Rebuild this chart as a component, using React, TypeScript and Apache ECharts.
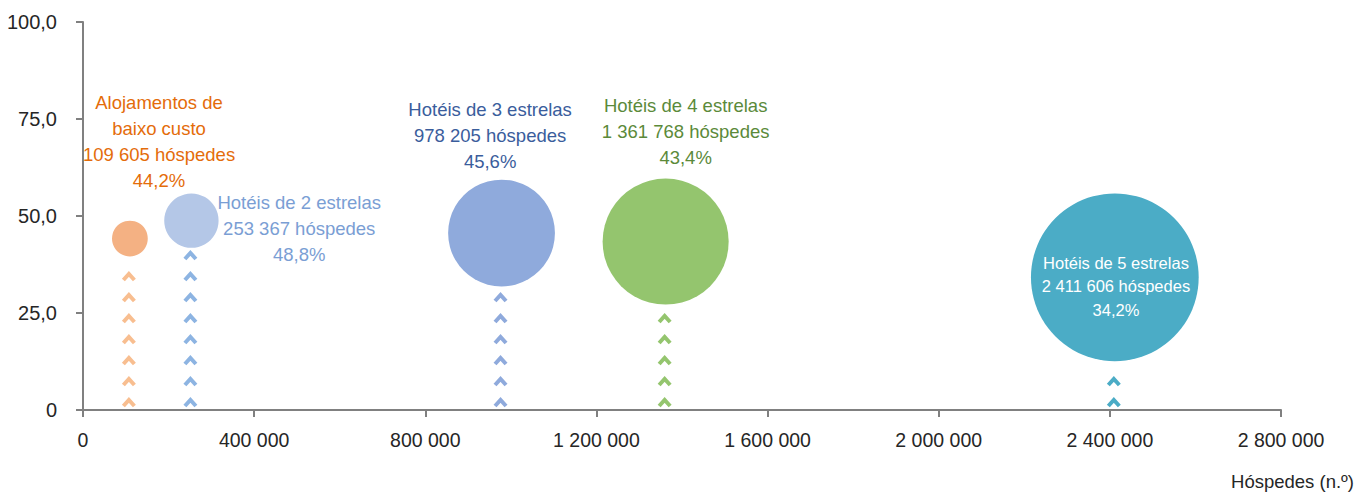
import React, { useEffect, useRef } from "react";
import * as echarts from "echarts";

const categories = [
  "Alojamentos de\nbaixo custo",
  "Hotéis de 2 estrelas",
  "Hotéis de 3 estrelas",
  "Hotéis de 4 estrelas",
  "Hotéis de 5 estrelas",
];
const guests = [109605, 253367, 978205, 1361768, 2411606];
const shares = [44.2, 48.8, 45.6, 43.4, 34.2];

const bubbleColors = ["#F4B183", "#B4C7E7", "#8FAADC", "#94C56E", "#4BACC6"];
const chevronColors = ["#F8BE90", "#8DB4E2", "#8FAADC", "#94C56E", "#4BACC6"];
const labelColors = ["#E46C0A", "#7A9ED4", "#3A5D9C", "#5B8A3A", "#FFFFFF"];
const labelPositions: [number, number][] = [
  [47, -79],
  [135, 35],
  [42, -44],
  [83, -47],
  [85, 93],
];

const SIZE_K = 0.108;
const FONT = "'Liberation Sans', Arial, sans-serif";

const fmtThousands = (v: number) =>
  String(Math.round(v)).replace(/\B(?=(\d{3})+(?!\d))/g, " ");
const fmtPct = (v: number) => v.toFixed(1).replace(".", ",");

export default function App() {
  const ref = useRef<HTMLDivElement>(null);

  useEffect(() => {
    if (!ref.current) return;
    const chart = echarts.init(ref.current, null, { renderer: "svg" });

    const bubbleData = categories.map((name, i) => ({
      name,
      value: [guests[i], shares[i]],
      itemStyle: { color: bubbleColors[i], opacity: 1 },
      label: {
        show: true,
        position: labelPositions[i],
        align: "center",
        verticalAlign: "middle",
        color: labelColors[i],
        fontSize: i === 4 ? 16.5 : 18.5,
        lineHeight: i === 4 ? 23.5 : 26,
        fontFamily: FONT,
        formatter: `${name}\n${fmtThousands(guests[i])} hóspedes\n${fmtPct(shares[i])}%`,
      },
    }));

    const chevronData = categories.map((name, i) => ({
      name,
      value: [guests[i], shares[i], i],
    }));

    chart.setOption({
      animation: false,
      grid: { left: 83, right: 78, top: 22, bottom: 83, containLabel: false },
      xAxis: {
        type: "value",
        min: 0,
        max: 2800000,
        interval: 400000,
        axisLine: { show: true, lineStyle: { color: "#808080", width: 2 } },
        axisTick: { show: true, length: 7, lineStyle: { color: "#808080", width: 2 } },
        splitLine: { show: false },
        axisLabel: {
          margin: 20,
          color: "#262626",
          fontSize: 19.5,
          fontFamily: FONT,
          formatter: (v: number) => fmtThousands(v),
        },
      },
      yAxis: {
        type: "value",
        min: 0,
        max: 100,
        interval: 25,
        axisLine: { show: true, lineStyle: { color: "#808080", width: 2 } },
        axisTick: { show: true, length: 7, lineStyle: { color: "#808080", width: 2 } },
        splitLine: { show: false },
        axisLabel: {
          margin: 26,
          color: "#262626",
          fontSize: 20,
          fontFamily: FONT,
          formatter: (v: number) => (v === 0 ? "0" : fmtPct(v)),
        },
      },
      graphic: [
        {
          type: "text",
          right: 5,
          top: 472,
          style: {
            text: "Hóspedes (n.º)",
            fill: "#262626",
            fontSize: 18.5,
            fontFamily: FONT,
          },
        },
      ],
      series: [
        {
          type: "custom",
          z: 1,
          data: chevronData,
          renderItem: (params: any, api: any) => {
            const x = api.value(0);
            const y = api.value(1);
            const idx = api.value(2);
            const base = api.coord([x, 0]);
            const center = api.coord([x, y]);
            const r = (Math.sqrt(x) * SIZE_K) / 2;
            const bubbleBottom = center[1] + r;
            const cx = base[0] - 1;
            const children: any[] = [];
            for (let cy = base[1] - 8; cy - 4 > bubbleBottom; cy -= 21) {
              children.push({
                type: "polyline",
                shape: {
                  points: [
                    [cx - 5.5, cy + 4],
                    [cx, cy - 2],
                    [cx + 5.5, cy + 4],
                  ],
                },
                style: {
                  stroke: chevronColors[idx],
                  lineWidth: 4,
                  lineJoin: "miter",
                  fill: null,
                },
              });
            }
            return { type: "group", children };
          },
        },
        {
          type: "scatter",
          z: 3,
          data: bubbleData,
          symbol: "circle",
          symbolSize: (val: number[]) => Math.sqrt(val[0]) * SIZE_K,
          emphasis: { disabled: true },
        },
      ],
    });

    return () => chart.dispose();
  }, []);

  return (
    <div
      ref={ref}
      style={{ position: "absolute", left: 0, top: 0, width: 1359, height: 493 }}
    />
  );
}
